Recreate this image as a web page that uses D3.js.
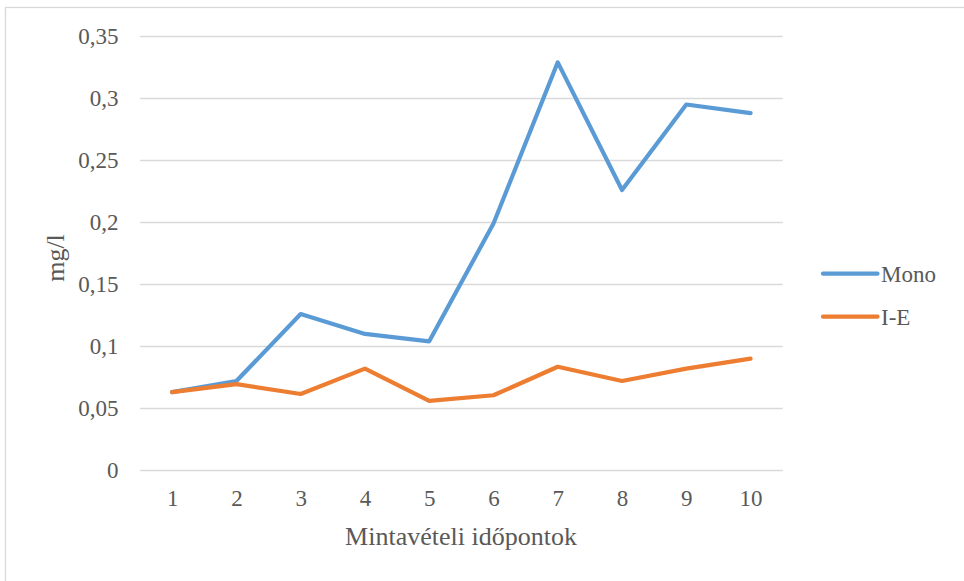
<!DOCTYPE html>
<html><head><meta charset="utf-8">
<script src="https://cdn.jsdelivr.net/npm/d3@7"></script>
<style>body{margin:0;background:#fff}svg{display:block}</style>
</head><body>
<svg id="c" width="964" height="581"></svg>
<script>
const categories = ["1","2","3","4","5","6","7","8","9","10"];
const mono = [0.063,0.072,0.126,0.110,0.104,0.199,0.329,0.226,0.295,0.288];
const ie = [0.063,0.0695,0.0615,0.082,0.056,0.0605,0.0835,0.072,0.082,0.090];
const yTicks = [0,0.05,0.1,0.15,0.2,0.25,0.3,0.35];
const seriesNames = ["Mono","I-E"];
const colors = ["#5B9BD5","#ED7D31"];

const svg = d3.select("#c");
const font = "'Liberation Serif','Times New Roman',serif";
const txt = "#595959";

svg.append("rect").attr("x",5.5).attr("y",7.5).attr("width",1000).attr("height",1000)
  .attr("fill","none").attr("stroke","#d9d9d9").attr("stroke-width",1.3);

const x = d3.scalePoint().domain(categories).range([140,782.7]).padding(0.5);
const y = d3.scaleLinear().domain([0,0.35]).range([470.3,36.3]);

const fmt = d => String(+d.toFixed(2)).replace(".", ",");

// grid
svg.append("g").selectAll("line").data(yTicks).join("line")
  .attr("x1",140).attr("x2",782.7)
  .attr("y1",d=>Math.round(y(d))+0.5).attr("y2",d=>Math.round(y(d))+0.5)
  .attr("stroke","#d9d9d9").attr("stroke-width",1.3);

// y axis labels
const yAxis = d3.axisLeft(y).tickValues(yTicks).tickFormat(fmt).tickSize(0).tickPadding(0);
const gy = svg.append("g").attr("transform","translate(118.5,0)").call(yAxis);
gy.select(".domain").remove();
gy.selectAll("text").attr("font-family",font).attr("font-size",23).attr("fill",txt).attr("dy","0.32em");

// x axis labels
const xAxis = d3.axisBottom(x).tickSize(0).tickPadding(0);
const gx = svg.append("g").attr("transform","translate(0,490)").call(xAxis);
gx.select(".domain").remove();
gx.selectAll("text").attr("font-family",font).attr("font-size",23).attr("fill",txt).attr("dy","0.71em");

// lines
const line = d3.line().x((d,i)=>x(categories[i])).y(d=>y(d));
[mono, ie].forEach((s,k)=>{
  svg.append("path").datum(s).attr("d",line).attr("fill","none")
    .attr("stroke",colors[k]).attr("stroke-width",4.2)
    .attr("stroke-linejoin","round").attr("stroke-linecap","round");
});

// axis titles
svg.append("text").attr("x",461).attr("y",545).attr("text-anchor","middle")
  .attr("font-family",font).attr("font-size",26).attr("fill",txt).text("Mintavételi időpontok");
svg.append("text").attr("transform","translate(64,258) rotate(-90)").attr("text-anchor","middle")
  .attr("font-family",font).attr("font-size",26).attr("fill",txt).text("mg/l");

// legend
const leg = svg.append("g");
seriesNames.forEach((n,k)=>{
  const yy = 273.7 + k*43;
  leg.append("line").attr("x1",823).attr("x2",877.5).attr("y1",yy).attr("y2",yy)
    .attr("stroke",colors[k]).attr("stroke-width",4.2).attr("stroke-linecap","round");
  leg.append("text").attr("x",881).attr("y",yy+8).attr("font-family",font).attr("font-size",23)
    .attr("fill",txt).text(n);
});
</script>
</body></html>
